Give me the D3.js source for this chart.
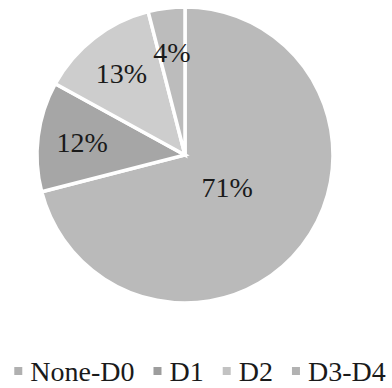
<!DOCTYPE html>
<html>
<head>
<meta charset="utf-8">
<script src="https://cdn.jsdelivr.net/npm/d3@7"></script>
<style>
  html, body { margin: 0; padding: 0; background: #fff; }
  svg { display: block; }
  text { font-family: "Liberation Serif", "Times New Roman", serif; fill: #1a1a1a; }
</style>
</head>
<body>
<svg id="chart" width="392" height="388"></svg>
<script>
// Drought category shares (%)
const categories = ["None-D0", "D1", "D2", "D3-D4"];
const shares = [71, 12, 13, 4];
const colors = ["#bababa", "#a6a6a6", "#cdcdcd", "#bcbcbc"];

const svg = d3.select("#chart");
const cx = 185, cy = 155, radius = 148;

const data = categories.map((c, i) => ({ category: c, value: shares[i], color: colors[i] }));

const pie = d3.pie().value(d => d.value).sort(null);
const arcs = pie(data);
const arc = d3.arc().innerRadius(0).outerRadius(radius);

const g = svg.append("g").attr("transform", `translate(${cx},${cy})`);

g.selectAll("path.slice")
  .data(arcs)
  .enter().append("path")
  .attr("class", "slice")
  .attr("d", arc)
  .attr("fill", d => d.data.color)
  .attr("stroke", "#fff")
  .attr("stroke-width", 3.5)
  .attr("stroke-linejoin", "miter");

// Labels sit further out on small slices, closer in on the dominant one
const labelRadius = d => (d.endAngle - d.startAngle > Math.PI ? 0.36 : 0.70) * radius;

g.selectAll("text.pct")
  .data(arcs)
  .enter().append("text")
  .attr("class", "pct")
  .attr("transform", d => {
    const a = (d.startAngle + d.endAngle) / 2;
    const r = labelRadius(d);
    return `translate(${Math.sin(a) * r},${-Math.cos(a) * r})`;
  })
  .attr("text-anchor", "middle")
  .attr("dominant-baseline", "central")
  .attr("font-size", 28)
  .text(d => d.data.value + "%");

// Legend
const legend = svg.append("g");
const markerSize = 8, markerGap = 8, itemGap = 19;
const items = legend.selectAll("g.item").data(data).enter().append("g").attr("class", "item");
items.append("rect")
  .attr("width", markerSize).attr("height", markerSize)
  .attr("y", -markerSize / 2)
  .attr("fill", d => d3.color(d.color).darker(0.15));
items.append("text")
  .attr("x", markerSize + markerGap)
  .attr("y", 10)
  .attr("font-size", 28)
  .text(d => d.category);

let x = 0;
const widths = [];
items.each(function() {
  const w = markerSize + markerGap + d3.select(this).select("text").node().getComputedTextLength();
  widths.push(w);
});
const total = d3.sum(widths) + itemGap * (widths.length - 1);
x = 200 - total / 2;
items.attr("transform", (d, i) => {
  const t = `translate(${x},371)`;
  x += widths[i] + itemGap;
  return t;
});
</script>
</body>
</html>
